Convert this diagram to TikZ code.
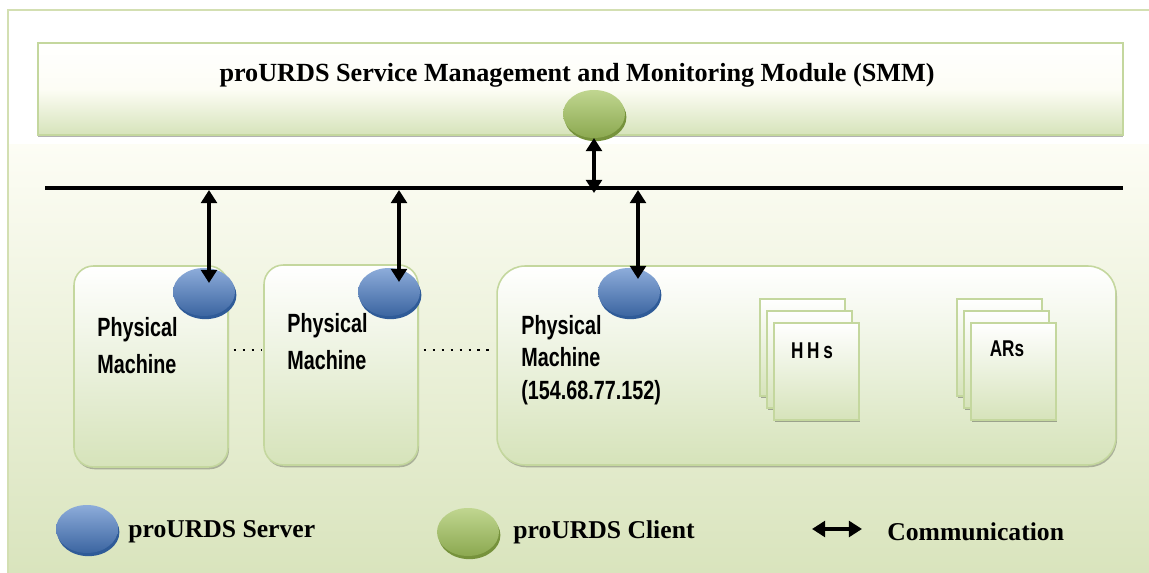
\documentclass[tikz,border=0pt]{standalone}
\usepackage{fontspec}
\setmainfont{Liberation Serif}
\newfontfamily\pmfont[FakeStretch=0.75]{Liberation Sans}
\usetikzlibrary{arrows.meta,shadows,shapes.geometric}

\definecolor{frameline}{HTML}{D3DFB2}
\definecolor{boxline}{HTML}{C4D79E}
\definecolor{boxbot}{HTML}{D6E3BA}
\definecolor{bgtop}{HTML}{FDFDF5}
\definecolor{bgbot}{HTML}{D9E4BD}
\definecolor{srvlight}{HTML}{8DACDA}
\definecolor{srvmid}{HTML}{4677BD}
\definecolor{srvdark}{HTML}{2F5B98}
\definecolor{clilight}{HTML}{C0D690}
\definecolor{climid}{HTML}{9BBB59}
\definecolor{clidark}{HTML}{76923C}

\tikzset{
  smmbox/.style={draw=boxline, line width=0.9pt, top color=white, bottom color=boxbot,
    middle color=bgtop, minimum width=21.7cm, minimum height=1.84cm, inner sep=0pt,
    drop shadow={shadow xshift=0pt, shadow yshift=-1.3pt, fill=black, opacity=0.3}},
  pmbox/.style={draw=boxline, line width=0.9pt, rounded corners=11pt, top color=white,
    bottom color=boxbot, inner sep=0pt,
    drop shadow={shadow xshift=0.6pt, shadow yshift=-1.3pt, fill=black, opacity=0.25}},
  pagebox/.style={draw=boxline, line width=0.8pt, top color=white, bottom color=boxbot,
    minimum width=1.7cm, minimum height=1.94cm, inner sep=0pt,
    drop shadow={shadow xshift=0.6pt, shadow yshift=-1pt, fill=black, opacity=0.3}},
  server/.style={ellipse, minimum width=1.24cm, minimum height=0.96cm, inner sep=0pt,
    top color=srvlight, middle color=srvmid, bottom color=srvmid!85!black,
    drop shadow={shadow xshift=0.8pt, shadow yshift=-1.8pt, fill=srvdark, opacity=1}},
  client/.style={ellipse, minimum width=1.24cm, minimum height=0.96cm, inner sep=0pt,
    top color=clilight, middle color=climid, bottom color=climid!90!black,
    drop shadow={shadow xshift=0.8pt, shadow yshift=-1.8pt, fill=clidark, opacity=1}},
  comm/.style={line width=2.7pt, {Triangle[width=9pt,length=7.5pt]}-{Triangle[width=9pt,length=7.5pt]}},
  bus/.style={line width=2.8pt},
  dotline/.style={line width=1.3pt, dash pattern=on 1.3pt off 3.8pt},
  pmtext/.style={font=\pmfont\bfseries\fontsize{15}{21}\selectfont, align=left,
    anchor=north west, inner sep=0pt},
  pagetext/.style={font=\pmfont\bfseries\fontsize{13}{15}\selectfont, inner sep=0pt},
  legtext/.style={font=\bfseries\fontsize{14.6}{16}\selectfont, anchor=west, inner sep=0pt},
}

\begin{document}
\begin{tikzpicture}[x=0.02cm, y=-0.02cm]
  \useasboundingbox (0,0) rectangle (1149,573);
  % background panel
  \fill[white] (0,0) rectangle (1149,573);
  \fill[white] (8,10) rectangle (1149,145);
  \shade[top color=bgtop, bottom color=bgbot] (8,145) rectangle (1149,573);
  \draw[frameline, line width=0.9pt] (8,573) -- (8,10) -- (1149,10);

  % management module
  \node[smmbox] (smm) at (580.5,89) {};
  \node[font=\bfseries\fontsize{14.9}{17}\selectfont, inner sep=0pt] (smmtitle) at (577,75)
    {proURDS Service Management and Monitoring Module (SMM)};

  % physical machines
  \node[pmbox, minimum width=3.08cm, minimum height=4.02cm] (pm1) at (151,366.5) {};
  \node[pmbox, minimum width=3.08cm, minimum height=4.0cm] (pm2) at (341,365) {};
  \node[pmbox, rounded corners=16pt, minimum width=12.38cm, minimum height=3.98cm] (pm3) at (806.5,365.5) {};

  \node[pmtext] (pm1txt) at (97,317) {Physical\\Machine};
  \node[pmtext] (pm2txt) at (287,313) {Physical\\Machine};
  \node[pmtext, font=\pmfont\bfseries\fontsize{15}{18.5}\selectfont] (pm3txt) at (521,315)
    {Physical\\Machine\\(154.68.77.152)};

  % stacked pages
  \node[pagebox] (hh1) at (802.5,347.5) {};
  \node[pagebox] (hh2) at (809.5,359.5) {};
  \node[pagebox] (hh3) at (816.5,371.5) {};
  \node[pagetext] (hhlbl) at (812,351) {H\,H\,s};
  \node[pagebox] (ar1) at (999.5,347.5) {};
  \node[pagebox] (ar2) at (1006.5,359.5) {};
  \node[pagebox] (ar3) at (1013.5,371.5) {};
  \node[pagetext] (arlbl) at (1007,349) {ARs};

  % dotted links between machines
  \draw[dotline, shorten <=2.8pt, shorten >=1pt] (pm1.east |- 0,350) -- (pm2.west |- 0,350);
  \draw[dotline, shorten <=2.8pt, shorten >=1pt] (pm2.east |- 0,350) -- (pm3.west |- 0,350);

  % server and client endpoints
  \node[server] (s1) at (204,292) {};
  \node[server] (s2) at (389,292) {};
  \node[server] (s3) at (629,292) {};
  \node[client] (cl) at (594,114) {};

  % network bus
  \coordinate (busL) at (45,188);
  \coordinate (busR) at (1123,188);
  \draw[bus] (busL) -- (busR);

  % communication links
  \coordinate (b0) at (594,193);
  \coordinate (c0) at (594,138);
  \coordinate (b1) at (209,190);
  \coordinate (t1) at (209,283);
  \coordinate (b2) at (399,190);
  \coordinate (t2) at (399,282);
  \coordinate (b3) at (638,190);
  \coordinate (t3) at (638,279);
  \draw[comm] (c0) -- (b0);
  \draw[comm] (b1) -- (t1);
  \draw[comm] (b2) -- (t2);
  \draw[comm] (b3) -- (t3);

  % legend
  \node[server] (legsrv) at (87,529) {};
  \node[legtext] (legsrvtxt) at (128,532) {proURDS Server};
  \node[client] (legcli) at (468,532) {};
  \node[legtext] (legclitxt) at (513,532) {proURDS Client};
  \coordinate (legA) at (812,529);
  \coordinate (legB) at (862,529);
  \draw[comm] (legA) -- (legB);
  \node[legtext] (legcomtxt) at (887,532) {Communication};
\end{tikzpicture}
\end{document}
